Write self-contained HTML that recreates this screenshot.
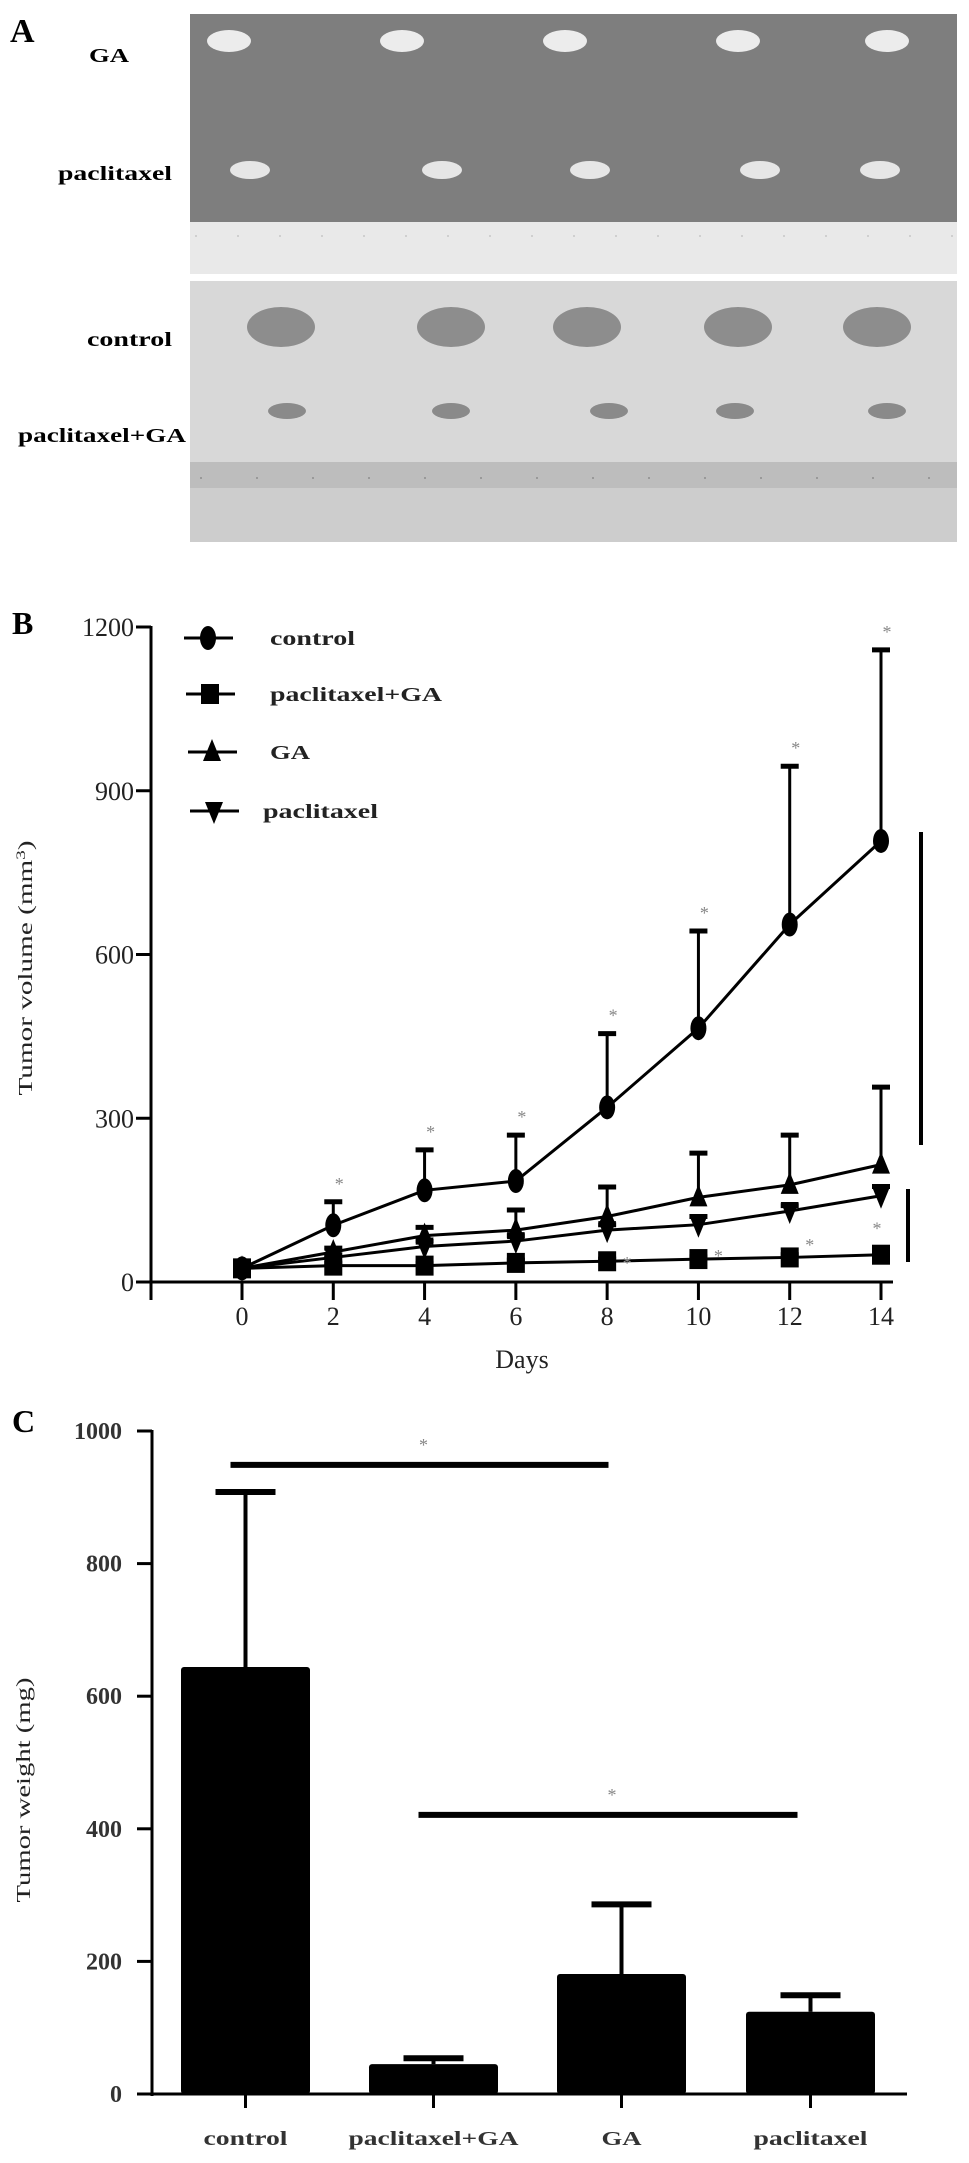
<!DOCTYPE html>
<html><head><meta charset="utf-8">
<style>
html,body{margin:0;padding:0;background:#fff;}
svg{display:block;}
text{font-family:"Liberation Serif",serif;}
</style></head>
<body>
<svg id="fig" width="969" height="2163" viewBox="0 0 969 2163" xmlns="http://www.w3.org/2000/svg">
  <g>
    <text x="10" y="42" font-size="34" font-weight="bold">A</text>
    <rect x="190" y="14" width="767" height="209" fill="#7e7e7e"/>
    <rect x="190" y="222" width="767" height="52" fill="#e9e9e9"/>
    <line x1="195" y1="236" x2="955" y2="236" stroke="#cfcfcf" stroke-width="2" stroke-dasharray="2 40"/>
    <rect x="190" y="281" width="767" height="181" fill="#d8d8d8"/>
    <rect x="190" y="462" width="767" height="80" fill="#cdcdcd"/>
    <rect x="190" y="462" width="767" height="26" fill="#bdbdbd"/>
    <line x1="200" y1="478" x2="955" y2="478" stroke="#999" stroke-width="2" stroke-dasharray="2 54"/>
    <g id="blobs"></g>
    <text x="89" y="62" font-size="20" font-weight="bold" textLength="40" lengthAdjust="spacingAndGlyphs">GA</text>
    <text x="58" y="180" font-size="20" font-weight="bold" textLength="114" lengthAdjust="spacingAndGlyphs">paclitaxel</text>
    <text x="87" y="346" font-size="20" font-weight="bold" textLength="85" lengthAdjust="spacingAndGlyphs">control</text>
    <text x="18" y="442" font-size="20" font-weight="bold" textLength="168" lengthAdjust="spacingAndGlyphs">paclitaxel+GA</text>
  </g>
  <g id="panelB">
    <text x="12" y="634" font-size="32" font-weight="bold">B</text>
  </g>
  <g id="panelC">
    <text x="12" y="1432" font-size="32" font-weight="bold">C</text>
  </g>
</svg>
<script>
const NS = "http://www.w3.org/2000/svg";
// ---------- Panel B data ----------
const days = [0, 2, 4, 6, 8, 10, 12, 14];
const controlVol = [25, 104, 168, 185, 320, 465, 655, 808];
const controlErr = [25, 147, 242, 269, 455, 643, 945, 1158];
const paxGaVol = [25, 30, 30, 35, 38, 42, 45, 50];
const paxGaErr = [25, 34, 34, 40, 42, 46, 50, 55];
const gaVol = [25, 55, 85, 95, 120, 155, 178, 215];
const gaErr = [25, 62, 100, 132, 174, 236, 269, 357];
const paxVol = [25, 45, 65, 75, 95, 105, 130, 158];
const paxErr = [25, 50, 75, 85, 105, 120, 140, 175];
const yTicksB = [0, 300, 600, 900, 1200];
const xTicksB = [0, 2, 4, 6, 8, 10, 12, 14];
const starDaysB = [2, 4, 6, 8, 10, 12, 14];
const starPaxGaDays = [8, 10, 12, 14];
const starPaxGaVals = [42, 55, 75, 105];
// ---------- Panel C data ----------
const groupsC = ["control", "paclitaxel+GA", "GA", "paclitaxel"];
const weightC = [644, 45, 181, 124];
const weightErrC = [908, 54, 286, 149];
const yTicksC = [0, 200, 400, 600, 800, 1000];
const sigLinesC = [[0, 2, 949], [1, 3, 421]];

function el(tag, attrs, parent) {
  const e = document.createElementNS(NS, tag);
  for (const k in attrs) e.setAttribute(k, attrs[k]);
  (parent || document.getElementById('fig')).appendChild(e);
  return e;
}

// ---------- Panel A blobs ----------
const blobG = document.getElementById('blobs');
const rows = [
  {xs:[229,402,565,738,887], y:41, rx:22, ry:11, fill:'#ececec'},
  {xs:[250,442,590,760,880], y:170, rx:20, ry:9, fill:'#e6e6e6'},
  {xs:[281,451,587,738,877], y:327, rx:34, ry:20, fill:'#8d8d8d'},
  {xs:[287,451,609,735,887], y:411, rx:19, ry:8, fill:'#8a8a8a'}
];
rows.forEach(r => r.xs.forEach(x => {
  const b = el('ellipse', {cx:x, cy:r.y, rx:r.rx, ry:r.ry, fill:r.fill}, blobG);
  
  
}));

// ---------- Panel B ----------
const gB = document.getElementById('panelB');
const bx = d => 242 + (d / 14) * (881 - 242);
const by = v => 1282 - v * (655 / 1200);
let ax = el('line', {x1:151, y1:by(1200) - 1, x2:151, y2:1300, stroke:'#000', 'stroke-width':3}, gB);
 
ax = el('line', {x1:150, y1:1282, x2:893, y2:1282, stroke:'#000', 'stroke-width':3}, gB);
 
yTicksB.forEach(v => {
  el('line', {x1:136, y1:by(v), x2:151, y2:by(v), stroke:'#000', 'stroke-width':3}, gB);
  const t = el('text', {x:134, y:by(v) + 9, 'font-size':26, 'text-anchor':'end', fill:'#222'}, gB);
  t.textContent = v;
   
});
xTicksB.forEach(d => {
  el('line', {x1:bx(d), y1:1282, x2:bx(d), y2:1300, stroke:'#000', 'stroke-width':3}, gB);
  const t = el('text', {x:bx(d), y:1325, 'font-size':26, 'text-anchor':'middle', fill:'#222'}, gB);
  t.textContent = d;
   
});
let tt = el('text', {x:522, y:1368, 'font-size':26, 'text-anchor':'middle', fill:'#222'}, gB);
tt.textContent = 'Days';  
tt = el('text', {x:0, y:0, 'font-size':20, 'text-anchor':'middle', fill:'#222', transform:'translate(32,968) rotate(-90)', textLength:255, lengthAdjust:'spacingAndGlyphs'}, gB);
tt.innerHTML = 'Tumor volume (mm<tspan dy="-7" font-size="13">3</tspan><tspan dy="7">)</tspan>';
 

function marker(type, x, y, parent) {
  let m;
  if (type === 'circle') m = el('ellipse', {cx:x, cy:y, rx:8, ry:12, fill:'#000'}, parent);
  else if (type === 'square') m = el('rect', {x:x - 9, y:y - 10, width:18, height:20, fill:'#000'}, parent);
  else if (type === 'up') m = el('polygon', {points:`${x},${y - 13} ${x + 9},${y + 9} ${x - 9},${y + 9}`, fill:'#000'}, parent);
  else m = el('polygon', {points:`${x},${y + 13} ${x + 9},${y - 9} ${x - 9},${y - 9}`, fill:'#000'}, parent);
  return m;
}
const series = [
  {name:'paxga', vals:paxGaVol, err:paxGaErr, m:'square'},
  {name:'paclitaxel', vals:paxVol, err:paxErr, m:'down'},
  {name:'ga', vals:gaVol, err:gaErr, m:'up'},
  {name:'control', vals:controlVol, err:controlErr, m:'circle'}
];
series.forEach(s => {
  const g = el('g', {}, gB);
   
  days.forEach((d, i) => {
    if (s.err[i] > s.vals[i]) {
      el('line', {x1:bx(d), y1:by(s.vals[i]), x2:bx(d), y2:by(s.err[i]), stroke:'#000', 'stroke-width':3}, g);
      el('line', {x1:bx(d) - 9, y1:by(s.err[i]), x2:bx(d) + 9, y2:by(s.err[i]), stroke:'#000', 'stroke-width':5}, g);
    }
  });
  const pts = days.map((d, i) => bx(d) + ',' + by(s.vals[i])).join(' ');
  const pl = el('polyline', {points:pts, fill:'none', stroke:'#000', 'stroke-width':3}, g);
   
  days.forEach((d, i) => {
    const mk = marker(s.m, bx(d), by(s.vals[i]), g);
     
  });
});
starDaysB.forEach(d => {
  const i = days.indexOf(d);
  const t = el('text', {x:bx(d) + 6, y:by(controlErr[i]) - 12, 'font-size':18, fill:'#888', 'text-anchor':'middle'}, gB);
  t.textContent = '*';  
});
starPaxGaDays.forEach((d, i) => {
  const t = el('text', {x:bx(d) + (d === 14 ? -4 : 20), y:by(starPaxGaVals[i]) + 10, 'font-size':18, fill:'#888', 'text-anchor':'middle'}, gB);
  t.textContent = '*';  
});
let sb = el('line', {x1:921, y1:832, x2:921, y2:1145, stroke:'#000', 'stroke-width':4}, gB);
 
sb = el('line', {x1:908, y1:1189, x2:908, y2:1262, stroke:'#000', 'stroke-width':4}, gB);
 
const legRows = [['control', 'circle', 638, 270], ['paclitaxel+GA', 'square', 694, 270], ['GA', 'up', 752, 270], ['paclitaxel', 'down', 811, 263]];
const legW = [85, 172, 40, 115];
legRows.forEach((r, i) => {
  const g = el('g', {}, gB);
   
  el('line', {x1:184 + i * 2, y1:r[2], x2:233 + i * 2, y2:r[2], stroke:'#000', 'stroke-width':3}, g);
  marker(r[1], 208 + i * 2, r[2], g);
  const t = el('text', {x:r[3], y:r[2] + 7, 'font-size':20, 'font-weight':'bold', fill:'#222', textLength:legW[i], lengthAdjust:'spacingAndGlyphs'}, g);
  t.textContent = r[0];
});

// ---------- Panel C ----------
const gC = document.getElementById('panelC');
const cy = v => 2094 - v * 0.663;
const barLeft = [181, 369, 557, 746];
const barW = 129;
ax = el('line', {x1:152, y1:cy(1000) - 1, x2:152, y2:2096, stroke:'#000', 'stroke-width':3}, gC);
 
ax = el('line', {x1:151, y1:2094, x2:907, y2:2094, stroke:'#000', 'stroke-width':3}, gC);
 
yTicksC.forEach(v => {
  el('line', {x1:137, y1:cy(v), x2:152, y2:cy(v), stroke:'#000', 'stroke-width':3}, gC);
  const t = el('text', {x:122, y:cy(v) + 8, 'font-size':24, 'font-weight':'bold', 'text-anchor':'end', fill:'#333'}, gC);
  t.textContent = v;  
});
tt = el('text', {x:0, y:0, 'font-size':20, 'text-anchor':'middle', fill:'#222', transform:'translate(30,1790) rotate(-90)', textLength:225, lengthAdjust:'spacingAndGlyphs'}, gC);
tt.textContent = 'Tumor weight (mg)';  
const labW = [84, 170, 40, 114];
groupsC.forEach((g0, i) => {
  const cx = barLeft[i] + barW / 2;
  const g = el('g', {}, gC);
   
  el('line', {x1:cx, y1:cy(weightC[i]), x2:cx, y2:cy(weightErrC[i]), stroke:'#000', 'stroke-width':4}, g);
  el('line', {x1:cx - 30, y1:cy(weightErrC[i]), x2:cx + 30, y2:cy(weightErrC[i]), stroke:'#000', 'stroke-width':6}, g);
  el('rect', {x:barLeft[i], y:cy(weightC[i]), width:barW, height:2094 - cy(weightC[i]), fill:'#000', rx:3}, g);
  el('line', {x1:cx, y1:2094, x2:cx, y2:2108, stroke:'#000', 'stroke-width':3}, gC);
  const t = el('text', {x:cx, y:2145, 'font-size':20, 'font-weight':'bold', 'text-anchor':'middle', fill:'#333', textLength:labW[i], lengthAdjust:'spacingAndGlyphs'}, gC);
  t.textContent = g0;  
});
sigLinesC.forEach(s => {
  const x1 = barLeft[s[0]] + barW / 2 - 15, x2 = barLeft[s[1]] + barW / 2 - 13;
  const l = el('line', {x1:x1, y1:cy(s[2]), x2:x2, y2:cy(s[2]), stroke:'#000', 'stroke-width':6}, gC);
   
  const t = el('text', {x:(x1 + x2) / 2 + 4, y:cy(s[2]) - 14, 'font-size':18, fill:'#888', 'text-anchor':'middle'}, gC);
  t.textContent = '*';  
});
</script>
</body></html>
